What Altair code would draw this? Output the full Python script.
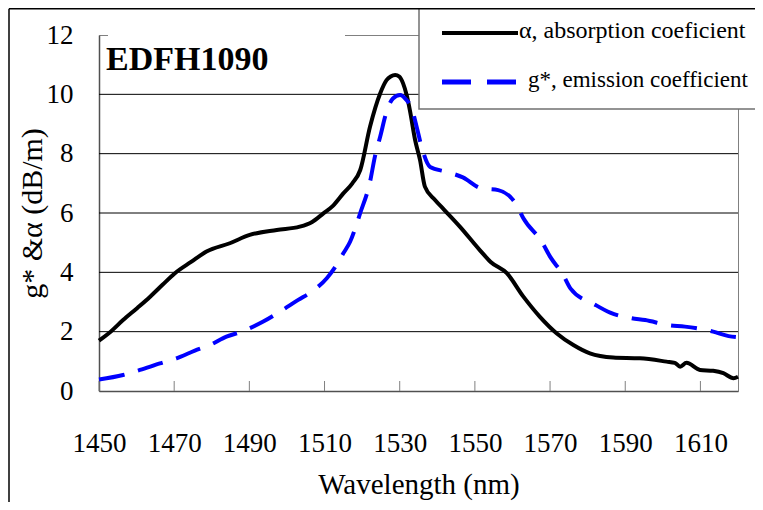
import altair as alt
import pandas as pd

# ---------------- data ----------------
WL_TICKS = [1450, 1470, 1490, 1510, 1530, 1550, 1570, 1590, 1610]
Y_TICKS = [0, 2, 4, 6, 8, 10, 12]
GRID_Y = [2, 4, 6, 8, 10]

ALPHA_WL = [1450, 1453.1, 1456.4, 1460.2, 1463.6, 1466.9, 1470.2, 1474.5, 1478.6,
            1484.8, 1490.1, 1497.3, 1503.4, 1506.7, 1509.7, 1512.3, 1515.0, 1517.4,
            1519.5, 1522.1, 1524.8, 1526.5, 1527.6, 1528.8, 1529.9, 1530.9, 1531.9,
            1532.7, 1534.1, 1535.4, 1536.7, 1539.4, 1541.9, 1546.0, 1551.3, 1554.2,
            1558.5, 1562.9, 1567.3, 1571.8, 1576.2, 1580.6, 1586.8, 1593.9, 1601.0,
            1603.2, 1604.6, 1606.3, 1609.9, 1613.4, 1616.1, 1618.8, 1620]
ALPHA = [1.70, 2.00, 2.39, 2.80, 3.18, 3.58, 3.97, 4.35, 4.70,
         4.98, 5.26, 5.43, 5.54, 5.70, 5.99, 6.25, 6.66, 7.00,
         7.45, 8.91, 10.03, 10.48, 10.60, 10.65, 10.60, 10.37, 9.95,
         9.47, 8.46, 7.79, 6.89, 6.44, 6.10, 5.54, 4.75, 4.35,
         3.97, 3.18, 2.50, 1.94, 1.55, 1.27, 1.13, 1.10, 0.99,
         0.95, 0.82, 0.95, 0.71, 0.68, 0.60, 0.43, 0.48]

G_WL = [1450, 1456.4, 1460.9, 1466.2, 1470.6, 1475.5, 1479.5, 1483.9, 1487.9,
        1493.7, 1498.1, 1503.0, 1506.6, 1510.6, 1513.2, 1515.0, 1516.8, 1519.5,
        1522.1, 1523.4, 1524.8, 1526.5, 1528.2, 1530.1, 1531.8, 1533.2, 1534.5,
        1535.8, 1538.1, 1542.4, 1546.8, 1551.7, 1556.2, 1561.1, 1562.9, 1567.8,
        1570.0, 1573.5, 1575.4, 1582.1, 1586.0, 1591.7, 1595.3, 1601.4, 1605.9,
        1613.4, 1617.5, 1620]
G = [0.39, 0.54, 0.71, 0.93, 1.10, 1.36, 1.55, 1.83, 2.00,
     2.34, 2.67, 3.07, 3.35, 3.80, 4.25, 4.64, 5.03, 6.00,
     7.05, 7.90, 8.57, 9.41, 9.86, 9.98, 9.81, 9.53, 8.91,
     8.24, 7.55, 7.39, 7.20, 6.83, 6.77, 6.27, 5.82, 5.03,
     4.53, 3.91, 3.46, 2.90, 2.64, 2.45, 2.39, 2.22, 2.17,
     2.00, 1.85, 1.81]

SERIES = ["α, absorption coeficient", "g*, emission coefficient"]
TITLE = "EDFH1090"
X_TITLE = "Wavelength (nm)"
Y_TITLE = "g* &α (dB/m)"

# ---------------- styling ----------------
FONT = "Liberation Serif"
W, H = 639, 356
xscale = alt.Scale(domain=[1450, 1620], nice=False, zero=False)
yscale = alt.Scale(domain=[0, 12], nice=False)
one = alt.InlineData(values=[{"k": 0}])

alpha_df = pd.DataFrame({"wl": ALPHA_WL, "v": ALPHA})
g_df = pd.DataFrame({"wl": G_WL, "v": G})

x_axis = alt.Axis(
    values=WL_TICKS, title=X_TITLE, grid=False, ticks=False, format="d",
    labelFlush=False, labelOverlap=False, labelPadding=52, labelBaseline="middle",
    titleX=W / 2, titleY=102, titleBaseline="alphabetic", titleAlign="center",
    titleFontSize=29,
)
y_axis = alt.Axis(
    values=Y_TICKS, title=Y_TITLE, grid=False, ticks=False, format="d",
    labelFlush=False, labelOverlap=False, labelPadding=26, labelBaseline="middle",
    titleX=-67, titleY=H / 2, titleAngle=270, titleAlign="center", titleBaseline="middle",
    titleFontSize=30,
)

grid = alt.Chart(pd.DataFrame({"v": GRID_Y})).mark_rule(color="black", strokeWidth=1).encode(
    y=alt.Y("v:Q", scale=yscale, axis=y_axis)
)

xticks = alt.Chart(pd.DataFrame({"wl": WL_TICKS})).mark_rule(color="#808080", strokeWidth=1).encode(
    x=alt.X("wl:Q", scale=xscale, axis=x_axis),
    y=alt.value(H - 10),
    y2=alt.value(H),
)

alpha_line = alt.Chart(alpha_df).mark_line(
    color="black", strokeWidth=4, interpolate="monotone"
).encode(
    x=alt.X("wl:Q", scale=xscale, axis=x_axis),
    y=alt.Y("v:Q", scale=yscale, axis=y_axis),
)

g_line = alt.Chart(g_df).mark_line(
    color="#0000FF", strokeWidth=4, strokeDash=[26, 14], interpolate="monotone"
).encode(
    x=alt.X("wl:Q", scale=xscale, axis=x_axis),
    y=alt.Y("v:Q", scale=yscale, axis=y_axis),
)

title_box = alt.Chart(one).mark_rect(color="white").encode(
    x=alt.value(9), x2=alt.value(246), y=alt.value(-3), y2=alt.value(40)
)
title_text = alt.Chart(one).mark_text(
    text=TITLE, font=FONT, fontSize=34, fontWeight="bold", align="left",
    baseline="alphabetic", color="black"
).encode(x=alt.value(7), y=alt.value(35))

legend_box = alt.Chart(one).mark_rect(fill="white", stroke="#707070", strokeWidth=1.5).encode(
    x=alt.value(320), x2=alt.value(700), y=alt.value(-27), y2=alt.value(74)
)
leg_a = alt.Chart(one).mark_rule(color="black", strokeWidth=4).encode(
    x=alt.value(343), x2=alt.value(419), y=alt.value(-2)
)
leg_g = alt.Chart(one).mark_rule(color="#0000FF", strokeWidth=5, strokeDash=[29, 16]).encode(
    x=alt.value(343), x2=alt.value(418), y=alt.value(47)
)
leg_a_txt = alt.Chart(one).mark_text(
    text=SERIES[0], font=FONT, fontSize=24, align="left", baseline="alphabetic", color="black"
).encode(x=alt.value(420), y=alt.value(3))
leg_g_txt = alt.Chart(one).mark_text(
    text=SERIES[1], font=FONT, fontSize=23, align="left", baseline="alphabetic", color="black"
).encode(x=alt.value(429), y=alt.value(52))

frame_top = alt.Chart(one).mark_rule(color="black", strokeWidth=1.5).encode(
    x=alt.value(-90), x2=alt.value(W + 60), y=alt.value(-26.2)
)
frame_left = alt.Chart(one).mark_rule(color="black", strokeWidth=1.5).encode(
    x=alt.value(-90), y=alt.value(-26.2), y2=alt.value(H + 150)
)

chart = alt.layer(
    grid, xticks, alpha_line, g_line, title_box, title_text,
    legend_box, leg_a, leg_g, leg_a_txt, leg_g_txt, frame_top, frame_left
).properties(
    width=W, height=H,
    autosize=alt.AutoSizeParams(type="none"),
    padding={"left": 91, "top": 27, "right": 17, "bottom": 111},
    background="white",
).configure_view(
    stroke="#808080", strokeWidth=1
).configure_axis(
    labelFont=FONT, labelFontSize=27, labelColor="black",
    titleFont=FONT, titleFontWeight="normal", titleColor="black",
    domainColor="#505050", domainWidth=1.5,
)

chart.save("out.html", embed_options={"renderer": "svg", "actions": False})
